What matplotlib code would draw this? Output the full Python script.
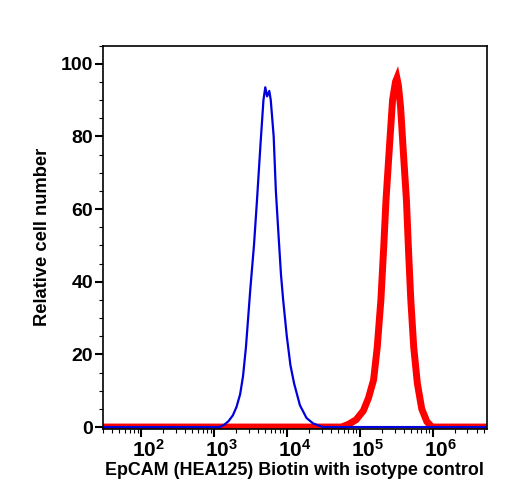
import matplotlib
matplotlib.use("Agg")
import matplotlib.pyplot as plt
import matplotlib.transforms as mtransforms
import numpy as np
from matplotlib.ticker import FixedLocator, LogLocator, MultipleLocator, FuncFormatter, NullFormatter

plt.rcParams['font.family'] = ['Liberation Sans', 'DejaVu Sans']
plt.rcParams['font.weight'] = 'bold'
plt.rcParams['mathtext.fontset'] = 'custom'
plt.rcParams['mathtext.rm'] = 'Liberation Sans:bold'
plt.rcParams['mathtext.it'] = 'Liberation Sans:bold'
plt.rcParams['mathtext.bf'] = 'Liberation Sans:bold'

# Isotype control (blue), log10 of fluorescence vs relative cell number
iso_log = [1.40, 3.08, 3.14, 3.20, 3.26, 3.31, 3.36, 3.40, 3.44, 3.47, 3.50, 3.55, 3.59,
           3.64, 3.68, 3.705, 3.73, 3.76, 3.78, 3.82, 3.85, 3.88, 3.92, 3.95, 4.00,
           4.05, 4.10, 4.18, 4.27, 4.36, 4.45, 4.50, 6.75]
iso_val = [0, 0, 0.6, 1.6, 3.2, 5.5, 9, 14, 22, 30, 38, 50, 62,
           78, 90, 93.5, 91, 92.5, 90, 80, 65, 55, 42, 35, 25,
           17, 12, 6, 2.5, 1, 0.3, 0, 0]

# EpCAM (HEA125) Biotin (red)
ep_log = [1.40, 4.75, 4.85, 4.95, 5.05, 5.12, 5.19, 5.24, 5.29, 5.33, 5.36, 5.41, 5.45,
          5.49, 5.51, 5.53, 5.56, 5.60, 5.64, 5.67, 5.70, 5.74, 5.79, 5.85, 5.92, 5.99, 6.75]
ep_val = [0, 0, 0.8, 2, 4.5, 8, 13, 22, 35, 50, 62.5, 78, 90,
          95, 96, 94, 88, 75, 62.5, 48, 35, 22, 12, 5, 1.5, 0, 0]

xticks = [1e2, 1e3, 1e4, 1e5, 1e6]
yticks = [0, 20, 40, 60, 80, 100]

fig = plt.figure(figsize=(5.08, 5.00), dpi=100)
ax = fig.add_axes([0.202, 0.143, 0.757, 0.766])

ax.plot(10 ** np.array(ep_log), ep_val, color='#ff0000', lw=5.0, solid_joinstyle='miter')
ax.plot(10 ** np.array(iso_log), iso_val, color='#0000dd', lw=1.6)

ax.set_xscale('log')
ax.set_xlim(10 ** 1.475, 10 ** 6.747)
ax.set_ylim(-0.4, 105)

ax.xaxis.set_major_locator(FixedLocator(xticks))
ax.xaxis.set_major_formatter(FuncFormatter(lambda v, p: r'$10^{%d}$' % round(np.log10(v))))
ax.xaxis.set_minor_locator(LogLocator(base=10, subs=np.arange(2, 10)))
ax.xaxis.set_minor_formatter(NullFormatter())
ax.yaxis.set_major_locator(FixedLocator(yticks))
ax.yaxis.set_minor_locator(MultipleLocator(5))

ax.tick_params(axis='both', which='major', direction='out', length=5.5, width=1.5, labelsize=14)
ax.tick_params(axis='both', which='minor', direction='out', length=3, width=0.8)
ax.tick_params(axis='y', which='major', pad=1.5)
ax.tick_params(axis='x', which='major', pad=2, labelsize=15)
for s in ax.spines.values():
    s.set_linewidth(1.2)

offset = mtransforms.ScaledTranslation(8 / 100, 0, fig.dpi_scale_trans)
for lab in ax.get_xticklabels():
    lab.set_transform(lab.get_transform() + offset)

ax.set_xlabel('EpCAM (HEA125) Biotin with isotype control', fontsize=12.9, fontweight='bold', labelpad=1)
ax.set_ylabel('Relative cell number', fontsize=13.2, fontweight='bold', labelpad=7)

fig.savefig('out.png', dpi=100)
